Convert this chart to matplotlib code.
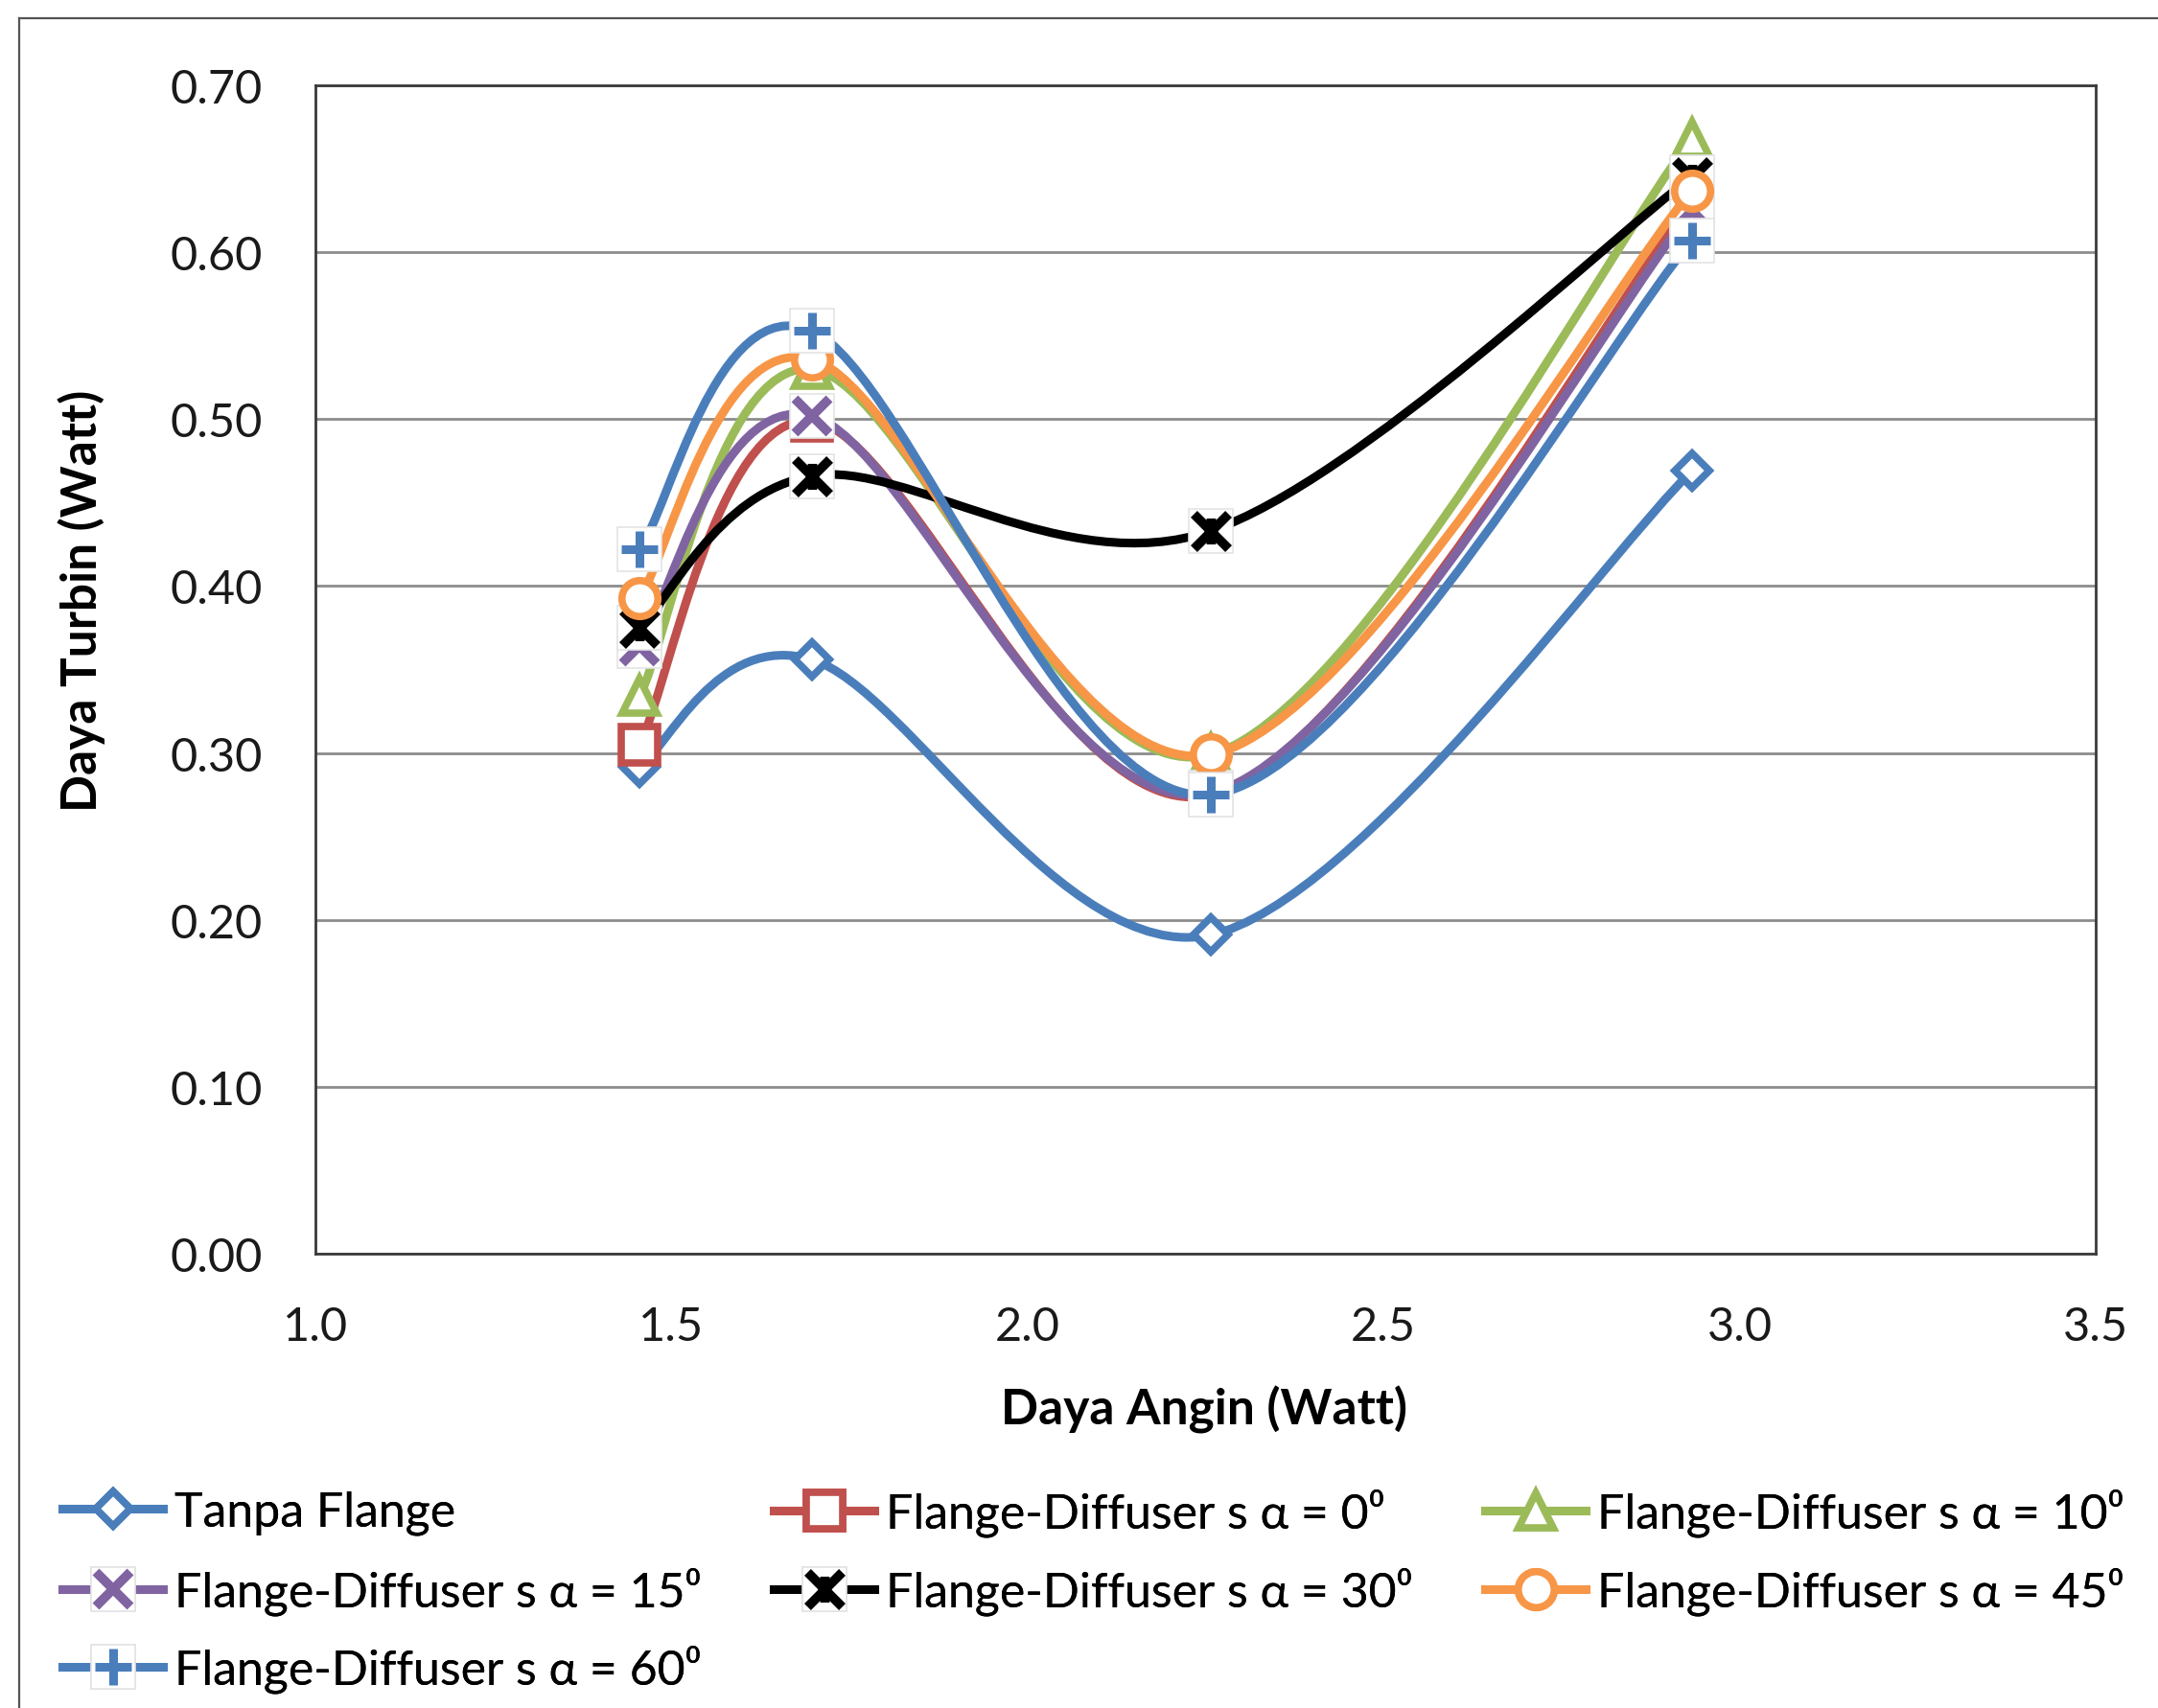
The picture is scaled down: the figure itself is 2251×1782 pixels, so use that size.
import matplotlib
matplotlib.use("Agg")
import matplotlib.pyplot as plt
from matplotlib.path import Path
from matplotlib.patches import PathPatch
from matplotlib.lines import Line2D
from matplotlib.ticker import FormatStrFormatter, MultipleLocator

plt.rcParams['font.family'] = ['Lato', 'DejaVu Sans']

# ---- data -------------------------------------------------------------
daya_angin = [1.455, 1.697, 2.257, 2.933]

tanpa_flange = [0.292, 0.356, 0.191, 0.469]
alpha_0 = [0.305, 0.499, 0.275, 0.630]
alpha_10 = [0.334, 0.530, 0.299, 0.668]
alpha_15 = [0.364, 0.502, 0.276, 0.625]
alpha_30 = [0.375, 0.466, 0.433, 0.645]
alpha_45 = [0.393, 0.536, 0.299, 0.637]
alpha_60 = [0.422, 0.553, 0.275, 0.607]

labels = [
    "Tanpa Flange",
    "Flange-Diffuser s α = 0⁰",
    "Flange-Diffuser s α = 10⁰",
    "Flange-Diffuser s α = 15⁰",
    "Flange-Diffuser s α = 30⁰",
    "Flange-Diffuser s α = 45⁰",
    "Flange-Diffuser s α = 60⁰",
]
series = [tanpa_flange, alpha_0, alpha_10, alpha_15, alpha_30, alpha_45, alpha_60]

# ---- styles -----------------------------------------------------------
BLUE, RED, GREEN, PURPLE, BLACK, ORANGE = (
    "#4a7ebb", "#c0504d", "#9bbb59", "#8064a2", "#000000", "#f79646")

star = Path([(-1, -1), (1, 1), (-1, 1), (1, -1), (0, -0.75), (0, 0.75)],
            [Path.MOVETO, Path.LINETO, Path.MOVETO, Path.LINETO,
             Path.MOVETO, Path.LINETO])

styles = [
    dict(color=BLUE, marker="D", ms=18, mew=5.5, filled=True, box=False),
    dict(color=RED, marker="s", ms=28, mew=5.5, filled=True, box=False),
    dict(color=GREEN, marker="^", ms=26, mew=5.5, filled=True, box=False),
    dict(color=PURPLE, marker="x", ms=26, mew=7, filled=False, box=True),
    dict(color=BLACK, marker=star, ms=26, mew=7, filled=False, box=True),
    dict(color=ORANGE, marker="o", ms=27, mew=5.5, filled=True, box=False),
    dict(color=BLUE, marker="+", ms=28, mew=6.5, filled=False, box=True),
]
LW = 6.5


def smooth_path(xs, ys):
    """Cubic Bezier smoothing through the points (Catmull-Rom style)."""
    pts = list(zip(xs, ys))
    n = len(pts)
    verts = [pts[0]]
    codes = [Path.MOVETO]
    for i in range(n - 1):
        p0 = pts[i - 1] if i > 0 else pts[i]
        p1 = pts[i]
        p2 = pts[i + 1]
        p3 = pts[i + 2] if i + 2 < n else pts[i + 1]
        c1 = (p1[0] + (p2[0] - p0[0]) / 6, p1[1] + (p2[1] - p0[1]) / 6)
        c2 = (p2[0] - (p3[0] - p1[0]) / 6, p2[1] - (p3[1] - p1[1]) / 6)
        verts += [c1, c2, p2]
        codes += [Path.CURVE4] * 3
    return Path(verts, codes)


fig = plt.figure(figsize=(22.51, 17.83), dpi=100)
ax = fig.add_axes([0.1462, 0.2658, 0.9711 - 0.1462, 0.9495 - 0.2658])

handles = []
for k, (ys, st) in enumerate(zip(series, styles)):
    z = 3 + k
    ax.add_patch(PathPatch(smooth_path(daya_angin, ys), fill=False,
                           edgecolor=st["color"], lw=LW, capstyle="round",
                           joinstyle="round", zorder=z))
    parts = [Line2D([], [], color=st["color"], lw=LW)]
    if st["box"]:
        ax.plot(daya_angin, ys, ls="none", marker="s", ms=33, mfc="white",
                mec="#e4e4e4", mew=1.2, zorder=z + 0.3)
        parts.append(Line2D([], [], ls="none", marker="s", ms=33, mfc="white",
                            mec="#e4e4e4", mew=1.2))
    mfc = "white" if st["filled"] else "none"
    ax.plot(daya_angin, ys, ls="none", marker=st["marker"], ms=st["ms"],
            mfc=mfc, mec=st["color"], mew=st["mew"], zorder=z + 0.5)
    parts.append(Line2D([], [], ls="none", marker=st["marker"], ms=st["ms"],
                        mfc=mfc, mec=st["color"], mew=st["mew"]))
    handles.append(tuple(parts))

# ---- axes -------------------------------------------------------------
ax.set_xlim(1.0, 3.5)
ax.set_ylim(0.0, 0.70)
ax.xaxis.set_major_locator(MultipleLocator(0.5))
ax.yaxis.set_major_locator(MultipleLocator(0.1))
ax.xaxis.set_major_formatter(FormatStrFormatter("%.1f"))
ax.yaxis.set_major_formatter(FormatStrFormatter("%.2f"))
ax.tick_params(axis="both", length=0, labelsize=35, colors="#1a1a1a")
ax.tick_params(axis="y", pad=40)
ax.tick_params(axis="x", pad=39)
ax.grid(axis="y", color="#8c8c8c", lw=2)
ax.set_axisbelow(True)
for sp in ax.spines.values():
    sp.set_color("#3a3a3a")
    sp.set_linewidth(2)

ax.set_ylabel("Daya Turbin (Watt)", fontsize=37, fontweight="bold")
ax.yaxis.set_label_coords(-0.118, 0.56)
ax.set_xlabel("Daya Angin (Watt)", fontsize=37, fontweight="bold")
ax.xaxis.set_label_coords(0.499, -0.112)

# ---- legend: three columns, rows placed individually ------------------
W, H = 2251, 1783
col_x = [65 / W, 807 / W, 1549 / W]
row_y = [1 - 1579 / H, 1 - 1661 / H, 1 - 1742 / H]
layout = [(0, 0, 0), (1, 0, 1), (2, 0, 2),
          (3, 1, 0), (4, 1, 1), (5, 1, 2),
          (6, 2, 0)]
for i, r, c in layout:
    leg = fig.legend([handles[i]], [labels[i]], loc="center left",
                     bbox_to_anchor=(col_x[c], row_y[r]), frameon=False,
                     fontsize=36, borderpad=0, borderaxespad=0,
                     handlelength=2.1, handletextpad=0.25)
    fig.add_artist(leg)

# ---- outer chart border -----------------------------------------------
fig.add_artist(Line2D([20 / W, 20 / W], [0, 1 - 20 / H], transform=fig.transFigure,
                      color="#555555", lw=1.6))
fig.add_artist(Line2D([20 / W, 1], [1 - 20 / H, 1 - 20 / H], transform=fig.transFigure,
                      color="#555555", lw=1.6))

fig.savefig("out.png", dpi=100, facecolor="white")
